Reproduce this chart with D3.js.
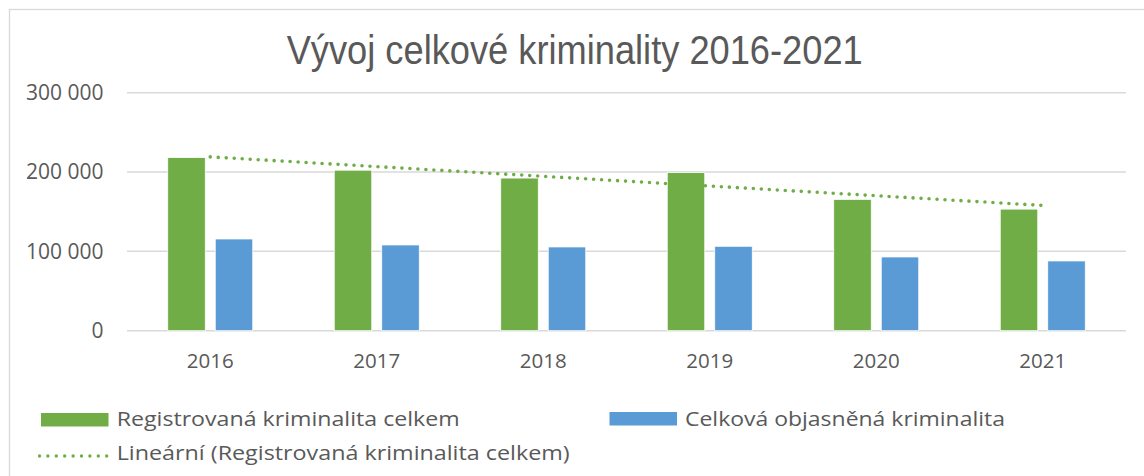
<!DOCTYPE html>
<html>
<head>
<meta charset="utf-8">
<script src="https://cdn.jsdelivr.net/npm/d3@7"></script>
<style>
  html, body { margin: 0; padding: 0; background: #ffffff; }
  svg { display: block; }
</style>
</head>
<body>
<svg id="chart" width="1144" height="476"></svg>
<script>
const title = "Vývoj celkové kriminality 2016-2021";
const years = ["2016", "2017", "2018", "2019", "2020", "2021"];
const seriesNames = ["Registrovaná kriminalita celkem", "Celková objasněná kriminalita"];
const registered = [218162, 202303, 192405, 199221, 165525, 153230];
const cleared = [115600, 108070, 105550, 106400, 92940, 87900];
const yTicks = [0, 100000, 200000, 300000];
const trendName = "Lineární (Registrovaná kriminalita celkem)";
const colors = ["#70AD47", "#5B9BD5"];

const svg = d3.select("#chart");
const textColor = "#595959";
const gridColor = "#D9D9D9";

// chart border
svg.append("rect")
  .attr("x", 9.5).attr("y", 9.5)
  .attr("width", 1200).attr("height", 600)
  .attr("fill", "none").attr("stroke", gridColor).attr("stroke-width", 1.3);

const plot = { left: 127, right: 1126, top: 92.7, bottom: 330.7 };

const x0 = d3.scaleBand().domain(years).range([plot.left, plot.right]).padding(0);
const groupWidth = 85;
const x1 = d3.scaleBand().domain(seriesNames).range([0, groupWidth]).paddingInner(10 / 47.5).paddingOuter(0);
const y = d3.scaleLinear().domain([0, 300000]).range([plot.bottom, plot.top]);

const fmt = d3.formatLocale({ decimal: ",", thousands: " ", grouping: [3], currency: ["", " Kč"] }).format(",d");

// gridlines
svg.append("g").selectAll("line").data(yTicks).join("line")
  .attr("x1", plot.left).attr("x2", plot.right)
  .attr("y1", d => y(d)).attr("y2", d => y(d))
  .attr("stroke", gridColor).attr("stroke-width", 1.5);

// y axis labels
const yAxis = d3.axisLeft(y).tickValues(yTicks).tickFormat(fmt).tickSize(0).tickPadding(0);
const yG = svg.append("g").attr("transform", `translate(103.5,0)`).call(yAxis);
yG.select(".domain").remove();
yG.selectAll("text")
  .attr("fill", textColor)
  .style("font-family", "'Open Sans', sans-serif")
  .style("font-size", "21px");

// x axis labels
const xAxis = d3.axisBottom(x0).tickSize(0).tickPadding(0);
const xG = svg.append("g").attr("transform", `translate(0,353.5)`).call(xAxis);
xG.select(".domain").remove();
xG.selectAll("text")
  .attr("fill", textColor)
  .attr("dy", "0.71em")
  .style("font-family", "'Open Sans', sans-serif")
  .style("font-size", "20.5px");

// bars
const rows = years.map((yr, i) => ({ year: yr, vals: [registered[i], cleared[i]] }));
const offset = (x0.bandwidth() - groupWidth) / 2;
const groups = svg.append("g").selectAll("g").data(rows).join("g")
  .attr("transform", d => `translate(${x0(d.year) + offset},0)`);
groups.selectAll("rect").data(d => d.vals.map((v, k) => ({ name: seriesNames[k], v, k }))).join("rect")
  .attr("x", d => x1(d.name))
  .attr("width", x1.bandwidth())
  .attr("y", d => y(d.v))
  .attr("height", d => y(0) - y(d.v))
  .attr("fill", d => colors[d.k])
  .attr("stroke", "#ffffff").attr("stroke-width", 0.75);

// linear trendline (least squares on registered)
const n = registered.length;
const mx = d3.mean(d3.range(n));
const my = d3.mean(registered);
const slope = d3.sum(d3.range(n), i => (i - mx) * (registered[i] - my)) / d3.sum(d3.range(n), i => (i - mx) ** 2);
const intercept = my - slope * mx;
const trendPts = [0, n - 1].map(i => [x0(years[i]) + x0.bandwidth() / 2, y(intercept + slope * i)]);
svg.append("path")
  .attr("d", d3.line()(trendPts))
  .attr("fill", "none")
  .attr("stroke", colors[0])
  .attr("stroke-width", 3.6)
  .attr("stroke-linecap", "round")
  .attr("stroke-dasharray", "0 8");

// title
svg.append("text")
  .attr("x", 574.7).attr("y", 64)
  .attr("text-anchor", "middle")
  .attr("fill", textColor)
  .attr("textLength", 576).attr("lengthAdjust", "spacingAndGlyphs")
  .style("font-family", "'Liberation Sans', Arial, sans-serif")
  .style("font-size", "40px")
  .text(title);

// legend
const legFont = "'Open Sans', sans-serif";
const legend = svg.append("g");
const legItems = [
  { type: "rect", color: colors[0], sx: 41, sy: 413, tx: 116.7, ty: 426, len: 343, label: seriesNames[0] },
  { type: "rect", color: colors[1], sx: 609.5, sy: 412, tx: 685, ty: 426, len: 320, label: seriesNames[1] },
  { type: "dots", color: colors[0], sx: 39.5, sy: 456, tx: 116.7, ty: 459.5, len: 453, label: trendName }
];
legItems.forEach(it => {
  if (it.type === "rect") {
    legend.append("rect").attr("x", it.sx).attr("y", it.sy).attr("width", 67.5).attr("height", 13.5).attr("fill", it.color);
  } else {
    legend.append("line").attr("x1", it.sx).attr("x2", it.sx + 67.5).attr("y1", it.sy).attr("y2", it.sy)
      .attr("stroke", it.color).attr("stroke-width", 3.4).attr("stroke-linecap", "round").attr("stroke-dasharray", "0 8.4");
  }
  legend.append("text").attr("x", it.tx).attr("y", it.ty)
    .attr("fill", textColor)
    .attr("textLength", it.len).attr("lengthAdjust", "spacingAndGlyphs")
    .style("font-family", legFont).style("font-size", "20.5px")
    .text(it.label);
});
</script>
</body>
</html>
